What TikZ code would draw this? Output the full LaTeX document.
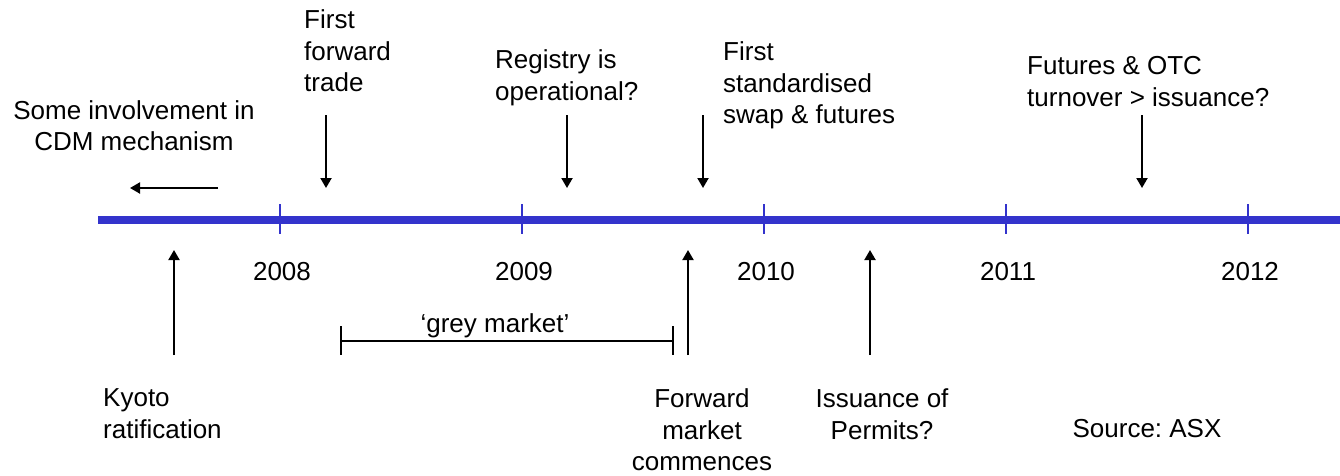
\documentclass[tikz,border=0pt]{standalone}
\usepackage{fontspec}
\setmainfont{Liberation Sans}
\usetikzlibrary{arrows.meta}
\definecolor{tlblue}{RGB}{51,51,204}
\begin{document}
\frenchspacing
\begin{tikzpicture}[x=1pt,y=-1pt,
  lbl/.style={inner sep=0pt,font=\fontsize{26}{31.5}\selectfont},
  ptr/.style={line width=2pt,-{Triangle[width=11pt,length=10pt]}},
  axis/.style={line width=8pt,tlblue},
  tickmark/.style={line width=2.5pt,tlblue},
  span/.style={line width=2pt}]
\useasboundingbox (0,0) rectangle (1340,475);
% timeline
\coordinate (tl0) at (98,220);
\coordinate (tl1) at (1340,220);
\draw[axis] (tl0) -- (tl1);
\foreach \x/\yr [count=\i] in {280/2008,522/2009,764/2010,1006/2011,1248/2012}{
  \coordinate (tt\i) at (\x,204);
  \coordinate (tb\i) at (\x,234);
  \draw[tickmark] (tt\i) -- (tb\i);
  \node[lbl,anchor=base] (yr\i) at (\x+2,280) {\yr};
}
% top texts
\node[lbl,anchor=north,align=center] (cdm) at (134,100) {Some involvement in\\CDM mechanism};
\node[lbl,anchor=north west,align=left] (fft) at (304,9.5) {First\\forward\\trade};
\node[lbl,anchor=north west,align=left] (reg) at (495,49.5) {Registry is\\operational?};
\node[lbl,anchor=north west,align=left] (fss) at (723,41.5) {First\\standardised\\swap \& futures};
\node[lbl,anchor=north west,align=left] (fut) at (1027,56.5) {Futures \& OTC\\turnover > issuance?};
% bottom texts
\node[lbl,anchor=north west,align=left] (kyo) at (103,388.5) {Kyoto\\ratification};
\node[lbl,anchor=north,align=center] (fmc) at (702,388.5) {Forward\\market\\commences};
\node[lbl,anchor=north,align=center] (iss) at (882,388.5) {Issuance of\\Permits?};
\node[lbl,anchor=base] (src) at (1147,437) {Source: ASX};
\node[lbl,anchor=base] (grey) at (495,332) {‘grey market’};
% arrow coordinates
\coordinate (cdmS) at (218,188); \coordinate (cdmE) at (130,188);
\coordinate (fftS) at (326,115); \coordinate (fftE) at (326,188);
\coordinate (regS) at (567,115); \coordinate (regE) at (567,188);
\coordinate (fssS) at (703,115); \coordinate (fssE) at (703,188);
\coordinate (futS) at (1142,115); \coordinate (futE) at (1142,188);
\coordinate (kyoS) at (174,355); \coordinate (kyoE) at (174,250);
\coordinate (fmcS) at (688,355); \coordinate (fmcE) at (688,250);
\coordinate (issS) at (870,355); \coordinate (issE) at (870,250);
\draw[ptr] (cdmS) -- (cdmE);
\draw[ptr] (fftS) -- (fftE);
\draw[ptr] (regS) -- (regE);
\draw[ptr] (fssS) -- (fssE);
\draw[ptr] (futS) -- (futE);
\draw[ptr] (kyoS) -- (kyoE);
\draw[ptr] (fmcS) -- (fmcE);
\draw[ptr] (issS) -- (issE);
% grey market span
\coordinate (gL) at (341,341); \coordinate (gR) at (673,341);
\coordinate (gLt) at (341,326); \coordinate (gLb) at (341,355);
\coordinate (gRt) at (673,326); \coordinate (gRb) at (673,355);
\draw[span] (gL) -- (gR);
\draw[span] (gLt) -- (gLb);
\draw[span] (gRt) -- (gRb);
\end{tikzpicture}
\end{document}
